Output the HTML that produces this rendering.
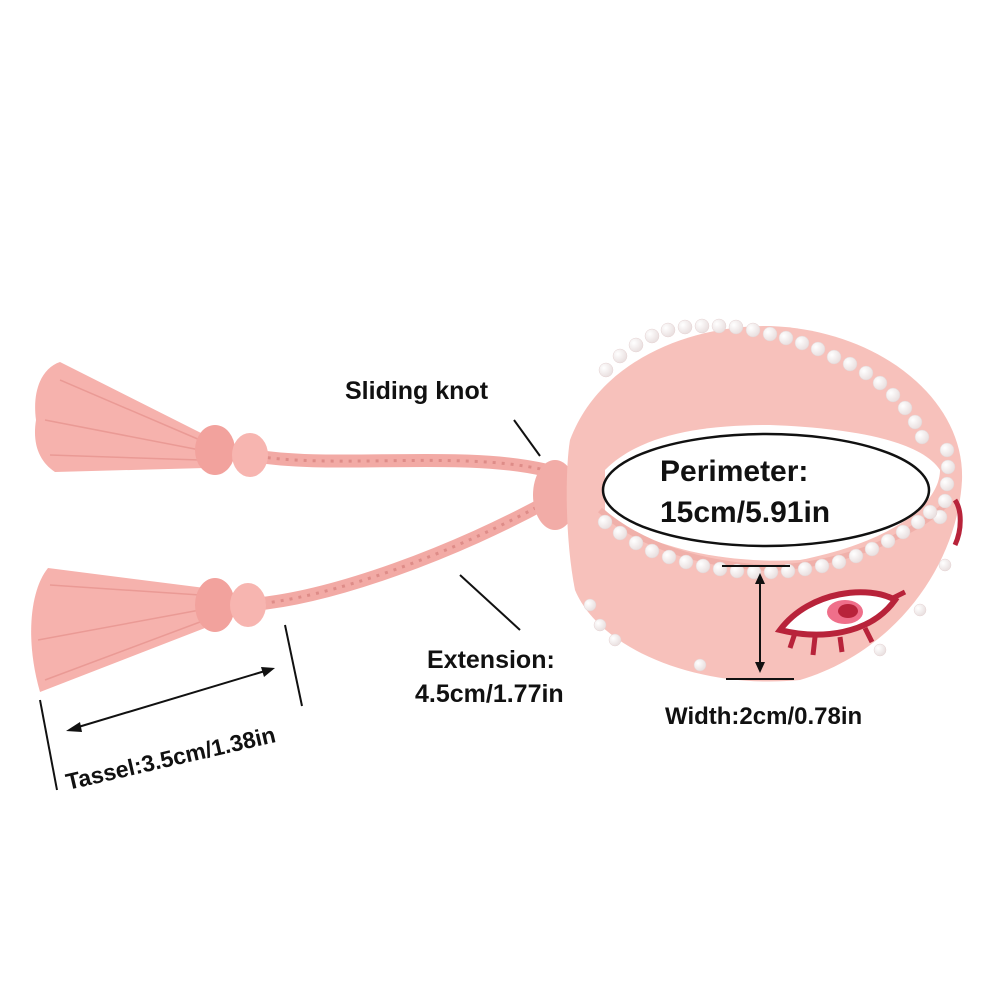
<!DOCTYPE html>
<html><head><style>
body{margin:0;background:#fff;}
svg{display:block}
text{font-family:"Liberation Sans",sans-serif;font-weight:bold;fill:#111}
</style></head><body>
<svg width="1000" height="1000" viewBox="0 0 1000 1000">
<defs>
<radialGradient id="pr" cx="0.35" cy="0.35" r="0.7"><stop offset="0" stop-color="#fff"/><stop offset="1" stop-color="#e8dede"/></radialGradient>
</defs>
<!-- cords -->
<path d="M250 455 C330 470 460 450 545 470" stroke="#f2aaa5" stroke-width="13" fill="none"/>
<path d="M250 455 C330 470 460 450 545 470" stroke="#de8c88" stroke-width="3" stroke-dasharray="3 6" fill="none"/>
<path d="M245 605 C330 600 460 550 550 500" stroke="#f2aaa5" stroke-width="13" fill="none"/>
<path d="M245 605 C330 600 460 550 550 500" stroke="#de8c88" stroke-width="3" stroke-dasharray="3 6" fill="none"/>
<!-- tassels -->
<path d="M205 435 L60 362 C42 368 32 390 36 420 C32 445 40 462 55 472 L205 468 Z" fill="#f6b2ad"/>
<g stroke="#ea9a95" stroke-width="1.5"><line x1="200" y1="440" x2="60" y2="380"/><line x1="200" y1="450" x2="45" y2="420"/><line x1="200" y1="460" x2="50" y2="455"/></g>
<ellipse cx="215" cy="450" rx="20" ry="25" fill="#f2a29d"/>
<ellipse cx="250" cy="455" rx="18" ry="22" fill="#f7b5b0"/>
<path d="M205 588 L48 568 C30 590 25 640 40 692 L205 628 Z" fill="#f6b2ad"/>
<g stroke="#ea9a95" stroke-width="1.5"><line x1="200" y1="595" x2="50" y2="585"/><line x1="200" y1="610" x2="38" y2="640"/><line x1="200" y1="622" x2="45" y2="680"/></g>
<ellipse cx="215" cy="605" rx="20" ry="27" fill="#f2a29d"/>
<ellipse cx="248" cy="605" rx="18" ry="22" fill="#f7b5b0"/>
<!-- knot -->
<ellipse cx="555" cy="495" rx="22" ry="35" fill="#f2aca7"/>
<!-- bracelet outer -->
<path d="M570 440 C600 360 690 325 770 326 C880 330 965 400 962 480 C958 560 900 650 800 680 C700 690 600 650 575 590 C565 540 565 470 570 440 Z" fill="#f7c1bb"/>
<!-- hole -->
<path d="M605 470 C640 435 700 425 770 425 C850 428 920 440 940 470 C940 500 900 540 800 560 C710 565 630 540 605 510 Z" fill="#fff"/>
<path d="M600 510 C640 545 700 565 770 568 C850 565 920 530 945 505" stroke="#f0b0aa" stroke-width="6" fill="none"/>
<!-- pearls -->
<g fill="url(#pr)" stroke="#e6d3d3" stroke-width="0.5">
<circle cx="606" cy="370" r="7"/><circle cx="620" cy="356" r="7"/><circle cx="636" cy="345" r="7"/><circle cx="652" cy="336" r="7"/><circle cx="668" cy="330" r="7"/><circle cx="685" cy="327" r="7"/><circle cx="702" cy="326" r="7"/><circle cx="719" cy="326" r="7"/><circle cx="736" cy="327" r="7"/><circle cx="753" cy="330" r="7"/><circle cx="770" cy="334" r="7"/><circle cx="786" cy="338" r="7"/><circle cx="802" cy="343" r="7"/><circle cx="818" cy="349" r="7"/><circle cx="834" cy="357" r="7"/><circle cx="850" cy="364" r="7"/><circle cx="866" cy="373" r="7"/><circle cx="880" cy="383" r="7"/><circle cx="893" cy="395" r="7"/><circle cx="905" cy="408" r="7"/><circle cx="915" cy="422" r="7"/><circle cx="922" cy="437" r="7"/><circle cx="947" cy="450" r="7"/><circle cx="948" cy="467" r="7"/><circle cx="947" cy="484" r="7"/><circle cx="945" cy="501" r="7"/><circle cx="940" cy="517" r="7"/>
<circle cx="605" cy="522" r="7"/><circle cx="620" cy="533" r="7"/><circle cx="636" cy="543" r="7"/><circle cx="652" cy="551" r="7"/><circle cx="669" cy="557" r="7"/><circle cx="686" cy="562" r="7"/><circle cx="703" cy="566" r="7"/><circle cx="720" cy="569" r="7"/><circle cx="737" cy="571" r="7"/><circle cx="754" cy="572" r="7"/><circle cx="771" cy="572" r="7"/><circle cx="788" cy="571" r="7"/><circle cx="805" cy="569" r="7"/><circle cx="822" cy="566" r="7"/><circle cx="839" cy="562" r="7"/><circle cx="856" cy="556" r="7"/><circle cx="872" cy="549" r="7"/><circle cx="888" cy="541" r="7"/><circle cx="903" cy="532" r="7"/><circle cx="918" cy="522" r="7"/><circle cx="930" cy="512" r="7"/>
<circle cx="590" cy="605" r="6"/><circle cx="600" cy="625" r="6"/><circle cx="615" cy="640" r="6"/><circle cx="700" cy="665" r="6"/><circle cx="880" cy="650" r="6"/><circle cx="920" cy="610" r="6"/><circle cx="945" cy="565" r="6"/>
</g>
<!-- eye -->
<path d="M780 630 C810 590 870 585 895 600 C870 635 820 640 780 630 Z" fill="#fff" stroke="#b8233a" stroke-width="6"/>
<ellipse cx="845" cy="612" rx="18" ry="12" fill="#ef6f8a"/>
<ellipse cx="848" cy="611" rx="10" ry="7" fill="#b8233a"/>
<g stroke="#b8233a" stroke-width="5" fill="none"><line x1="795" y1="633" x2="790" y2="648"/><line x1="815" y1="637" x2="813" y2="655"/><line x1="840" y1="637" x2="842" y2="652"/><line x1="865" y1="628" x2="872" y2="642"/><path d="M893 598 L905 592"/></g>
<path d="M955 500 C962 510 962 530 955 545" stroke="#b8233a" stroke-width="5" fill="none"/>
<!-- oval -->
<ellipse cx="766" cy="490" rx="163" ry="56" fill="#fff" stroke="#111" stroke-width="2.5"/>
<text x="660" y="481" font-size="30">Perimeter:</text>
<text x="660" y="522" font-size="30">15cm/5.91in</text>
<g stroke="#111" stroke-width="2"><line x1="722" y1="566" x2="790" y2="566"/><line x1="726" y1="679" x2="794" y2="679"/><line x1="760" y1="578" x2="760" y2="668"/></g>
<path d="M760 573 L755 584 L765 584 Z M760 673 L755 662 L765 662 Z" fill="#111"/>
<text x="665" y="724" font-size="24">Width:2cm/0.78in</text>
<text x="345" y="399" font-size="25">Sliding knot</text>
<line x1="514" y1="420" x2="540" y2="456" stroke="#111" stroke-width="2"/>
<line x1="460" y1="575" x2="520" y2="630" stroke="#111" stroke-width="2"/>
<text x="427" y="668" font-size="25">Extension:</text>
<text x="415" y="702" font-size="25">4.5cm/1.77in</text>
<g stroke="#111" stroke-width="2"><line x1="40" y1="700" x2="57" y2="790"/><line x1="285" y1="625" x2="302" y2="706"/><line x1="75" y1="728" x2="265" y2="671"/></g>
<path d="M66 731 L80 722 L82 732 Z M275 668 L261 667 L264 677 Z" fill="#111"/>
<text x="0" y="0" font-size="23" transform="translate(68,790) rotate(-13)">Tassel:3.5cm/1.38in</text>
</svg>
</body></html>
